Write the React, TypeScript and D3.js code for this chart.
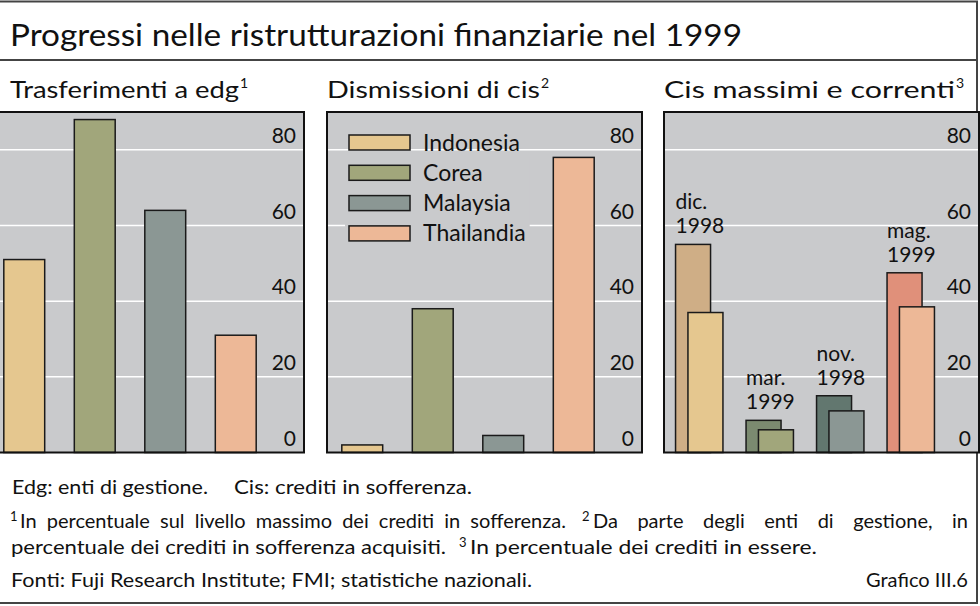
import { useEffect, useRef } from "react";
import * as d3 from "d3";

// Dati del grafico
const countries = ["Indonesia", "Corea", "Malaysia", "Thailandia"];
const transfers = [51, 88, 64, 31];
const disposals = [2, 38, 4.5, 78];
const peakNpl = [55, 8.5, 15, 47.5];
const currentNpl = [37, 6, 11, 38.5];
const peakDates = [
  ["dic.", "1998"],
  ["mar.", "1999"],
  ["nov.", "1998"],
  ["mag.", "1999"],
];
const yTicks = [0, 20, 40, 60, 80];
const panelTitles = ["Trasferimenti a edg", "Dismissioni di cis", "Cis massimi e correnti"];
const panelNotes = ["1", "2", "3"];

const fillColors = ["#e5c78f", "#a1a67b", "#8b9794", "#edb897"];
const peakColors = ["#cfae86", "#7b8a70", "#62776f", "#e0907a"];

const FONT = "Lato, 'Open Sans', sans-serif";
const W = 980;
const H = 606;

const App = () => {
  const svgRef = useRef<SVGSVGElement | null>(null);

  useEffect(() => {
    const svg = d3.select(svgRef.current);
    svg.selectAll("*").remove();

    // cornice esterna
    svg.append("rect").attr("x", -20).attr("y", 1.5).attr("width", 997).attr("height", 601.5)
      .attr("fill", "#fff").attr("stroke", "#444").attr("stroke-width", 2);
    svg.append("line").attr("x1", -20).attr("x2", 977).attr("y1", 60).attr("y2", 60)
      .attr("stroke", "#444").attr("stroke-width", 2);

    svg.append("text").attr("x", 10).attr("y", 46).attr("font-size", 31)
      .attr("textLength", 732).attr("lengthAdjust", "spacingAndGlyphs")
      .text("Progressi nelle ristrutturazioni finanziarie nel 1999");

    const panelLefts = [-11, 327, 664];
    const panelW = 315;
    const top = 112;
    const bottom = 452.5;
    const titleX = [10, 327, 664];
    const titleLen = [229, 213, 291];

    const y = d3.scaleLinear().domain([0, 90]).range([bottom, top]);

    panelLefts.forEach((left, p) => {
      const g = svg.append("g").attr("transform", `translate(${left},0)`);
      const x = d3.scaleBand<string>().domain(countries).range([0, 282])
        .paddingInner(0.42).paddingOuter(0.21);

      g.append("rect").attr("x", 0).attr("y", top).attr("width", panelW).attr("height", bottom - top)
        .attr("fill", "#c9cacc");

      g.selectAll(".grid").data(yTicks.slice(1)).enter().append("line")
        .attr("x1", 0).attr("x2", panelW)
        .attr("y1", (d) => y(d)).attr("y2", (d) => y(d))
        .attr("stroke", "#fff").attr("stroke-width", 1.5);

      g.selectAll(".tick").data(yTicks).enter().append("text")
        .attr("x", 307).attr("y", (d) => y(d) - 7)
        .attr("text-anchor", "end").attr("font-size", 21).text((d) => d);

      if (p < 2) {
        const vals = p === 0 ? transfers : disposals;
        g.selectAll(".bar").data(vals).enter().append("rect")
          .attr("x", (_, i) => x(countries[i]) as number)
          .attr("y", (d) => y(d))
          .attr("width", x.bandwidth())
          .attr("height", (d) => bottom - y(d))
          .attr("fill", (_, i) => fillColors[i])
          .attr("stroke", "#1a1a1a").attr("stroke-width", 1.5);
      } else {
        const bw = 35;
        const off = 6.2;
        const cx = (i: number) => (x(countries[i]) as number) + x.bandwidth() / 2;
        g.selectAll(".peak").data(peakNpl).enter().append("rect")
          .attr("x", (_, i) => cx(i) - off - bw / 2)
          .attr("y", (d) => y(d)).attr("width", bw)
          .attr("height", (d) => bottom - y(d))
          .attr("fill", (_, i) => peakColors[i])
          .attr("stroke", "#1a1a1a").attr("stroke-width", 1.5);
        g.selectAll(".cur").data(currentNpl).enter().append("rect")
          .attr("x", (_, i) => cx(i) + off - bw / 2)
          .attr("y", (d) => y(d)).attr("width", bw)
          .attr("height", (d) => bottom - y(d))
          .attr("fill", (_, i) => fillColors[i])
          .attr("stroke", "#1a1a1a").attr("stroke-width", 1.5);
        peakDates.forEach((lines, i) => {
          const t = g.append("text").attr("font-size", 21)
            .attr("x", cx(i) - off - bw / 2).attr("y", y(peakNpl[i]) - 35);
          t.append("tspan").attr("x", cx(i) - off - bw / 2).text(lines[0]);
          t.append("tspan").attr("x", cx(i) - off - bw / 2).attr("dy", 24).text(lines[1]);
        });
      }

      if (p === 1) {
        // legenda
        const lg = g.append("g");
        const bg = lg.append("rect").attr("fill", "#c9cacc");
        let maxEnd = 0;
        countries.forEach((c, i) => {
          const cy = 142.5 + i * 30.3;
          lg.append("rect").attr("x", 22).attr("y", cy - 7.5).attr("width", 61).attr("height", 15)
            .attr("fill", fillColors[i]).attr("stroke", "#1a1a1a").attr("stroke-width", 1.5);
          const t = lg.append("text").attr("x", 96).attr("y", cy + 8).attr("font-size", 23).text(c);
          const node = t.node() as SVGTextElement;
          maxEnd = Math.max(maxEnd, 96 + node.getComputedTextLength());
        });
        bg.attr("x", 18).attr("y", 157).attr("width", maxEnd - 14).attr("height", 89);
      }

      g.append("rect").attr("x", 0).attr("y", top).attr("width", panelW).attr("height", bottom - top)
        .attr("fill", "none").attr("stroke", "#111").attr("stroke-width", 2);

      // titoli dei pannelli
      svg.append("text").attr("x", titleX[p]).attr("y", 98).attr("font-size", 24)
        .attr("textLength", titleLen[p]).attr("lengthAdjust", "spacingAndGlyphs")
        .text(panelTitles[p]);
      svg.append("text").attr("x", titleX[p] + titleLen[p] + 1).attr("y", 88).attr("font-size", 14)
        .text(panelNotes[p]);
    });

    // note
    const FS = 20;
    const note = (x: number, yy: number, txt: string, len: number, anchor = "start") =>
      svg.append("text").attr("x", x).attr("y", yy).attr("font-size", FS)
        .attr("text-anchor", anchor)
        .attr("textLength", len).attr("lengthAdjust", "spacingAndGlyphs").text(txt);
    const sup = (x: number, yy: number, txt: string) =>
      svg.append("text").attr("x", x).attr("y", yy).attr("font-size", 13).text(txt);
    // testo giustificato: allarga solo gli spazi tra le parole
    const spread = (x: number, yy: number, txt: string, len: number) => {
      const t = svg.append("text").attr("x", x).attr("y", yy).attr("font-size", FS).text(txt);
      const nat = (t.node() as SVGTextElement).getComputedTextLength();
      const n = txt.split(" ").length - 1;
      t.attr("word-spacing", Math.max(0, (len - nat) / n));
      return t;
    };

    note(12, 494, "Edg: enti di gestione.", 196);
    note(234, 494, "Cis: crediti in sofferenza.", 238);

    sup(10, 521, "1");
    spread(20, 528, "In percentuale sul livello massimo dei crediti in sofferenza.", 546);
    sup(582, 521, "2");
    spread(593, 528, "Da parte degli enti di gestione, in", 375);

    note(11, 554, "percentuale dei crediti in sofferenza acquisiti.", 435);
    sup(459, 547, "3");
    note(470, 554, "In percentuale dei crediti in essere.", 347);
    note(11, 587, "Fonti: Fuji Research Institute; FMI; statistiche nazionali.", 521);
    note(968, 587, "Grafico III.6", 102, "end");
  }, []);

  return (
    <div style={{ position: "absolute", left: 0, top: 0 }}>
      <svg ref={svgRef} width={W} height={H} style={{ display: "block", fontFamily: FONT, fill: "#111" }} />
    </div>
  );
};

export default App;
